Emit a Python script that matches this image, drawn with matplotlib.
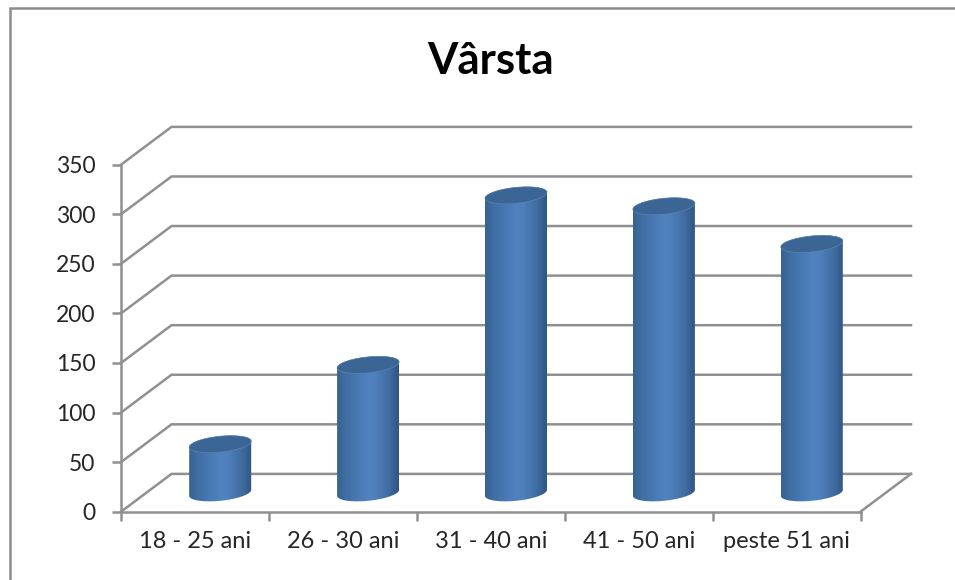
import numpy as np
import matplotlib
matplotlib.use("Agg")
import matplotlib.pyplot as plt
from matplotlib.lines import Line2D
from matplotlib.patches import PathPatch, Polygon
from matplotlib.path import Path
from matplotlib.colors import LinearSegmentedColormap

categories = ["18 - 25 ani", "26 - 30 ani", "31 - 40 ani", "41 - 50 ani", "peste 51 ani"]
values = [49, 129, 300, 289, 251]
y_ticks = [0, 50, 100, 150, 200, 250, 300, 350]
title = "Vârsta"

W, H = 955, 580
plt.rcParams["font.family"] = ["Lato", "DejaVu Sans"]
fig = plt.figure(figsize=(W / 100, H / 100), dpi=100, facecolor="white")
L, R, T, B = 121, 860.5, 164.7, 511.7
ax = fig.add_axes([L / W, 1 - B / H, (R - L) / W, (B - T) / H])
ax.set_xlim(0, 5)
ax.set_ylim(0, 350)
ax.set_autoscale_on(False)
ax.patch.set_alpha(0)

xu = (R - L) / 5
yu = (B - T) / 350
depth_x = 50.5 / xu
depth_y = 37.8 / yu
GRID = "#909090"
lw = 1.8

for v in y_ticks:
    ax.plot([0, depth_x, 5 + depth_x], [v, v + depth_y, v + depth_y],
            color=GRID, lw=lw, clip_on=False, zorder=1, solid_joinstyle="miter")
ax.plot([5, 5 + depth_x], [0, depth_y], color=GRID, lw=lw, clip_on=False, zorder=1)

for s in ("top", "right"):
    ax.spines[s].set_visible(False)
for s in ("left", "bottom"):
    ax.spines[s].set_color(GRID)
    ax.spines[s].set_linewidth(lw)

ax.set_yticks(y_ticks)
ax.set_xticks(np.arange(6))
ax.set_xticklabels([])
ax.set_xticks(np.arange(5) + 0.5, categories, minor=True)
ax.tick_params(axis="y", direction="out", length=6.5, width=lw, color=GRID,
               labelsize=16.5, labelcolor="#262626", pad=12)
ax.tick_params(axis="x", which="major", direction="out", length=6.5, width=lw, color=GRID)
ax.tick_params(axis="x", which="minor", length=0, labelsize=17, labelcolor="#262626", pad=14)

ax.set_title(title, fontsize=31.5, fontweight="bold", color="#000000", pad=65)

body_cmap = LinearSegmentedColormap.from_list(
    "cyl", [(0, "#37618f"), (0.12, "#3f6da3"), (0.5, "#5082c0"), (0.62, "#4f80bb"),
            (0.85, "#3f6b9f"), (1, "#2f5684")])
half_w = 31.0 / xu
tilt = 3.0 / yu
minor = 8.0 / yu
t = np.linspace(0, 2 * np.pi, 121)
grad = np.linspace(0, 1, 256).reshape(1, -1)

for i, v in enumerate(values):
    cx = i + 0.5 + depth_x / 2
    base = depth_y / 2
    # lower half of the base ellipse then back along the upper rim
    tb = np.linspace(np.pi, 2 * np.pi, 60)
    low = np.c_[cx + half_w * np.cos(tb), base + tilt * np.cos(tb) + minor * np.sin(tb)]
    tt = np.linspace(0, np.pi, 60)
    top = np.c_[cx + half_w * np.cos(tt), base + v + tilt * np.cos(tt) + minor * np.sin(tt)]
    outline = np.vstack([low, top])
    clip = Polygon(outline, closed=True, transform=ax.transData, fc="none", ec="none")
    ax.add_patch(clip)
    im = ax.imshow(grad, cmap=body_cmap, aspect="auto", zorder=3, interpolation="bilinear",
                   extent=[cx - half_w, cx + half_w, base - minor - tilt, base + v + minor + tilt])
    im.set_clip_path(clip)
    cap = np.c_[cx + half_w * np.cos(t), base + v + tilt * np.cos(t) + minor * np.sin(t)]
    ax.add_patch(PathPatch(Path(cap), fc="#3b6595", ec="#5f83ad", lw=0.5, zorder=4))

ax.set_xlim(0, 5)
ax.set_ylim(0, 350)

fig.add_artist(Line2D([10 / W, 10 / W, 1], [0, 1 - 7.5 / H, 1 - 7.5 / H],
                      color="#8c8c8c", lw=1.8, transform=fig.transFigure,
                      solid_joinstyle="miter"))
fig.savefig("out.png", dpi=100, facecolor="white")
